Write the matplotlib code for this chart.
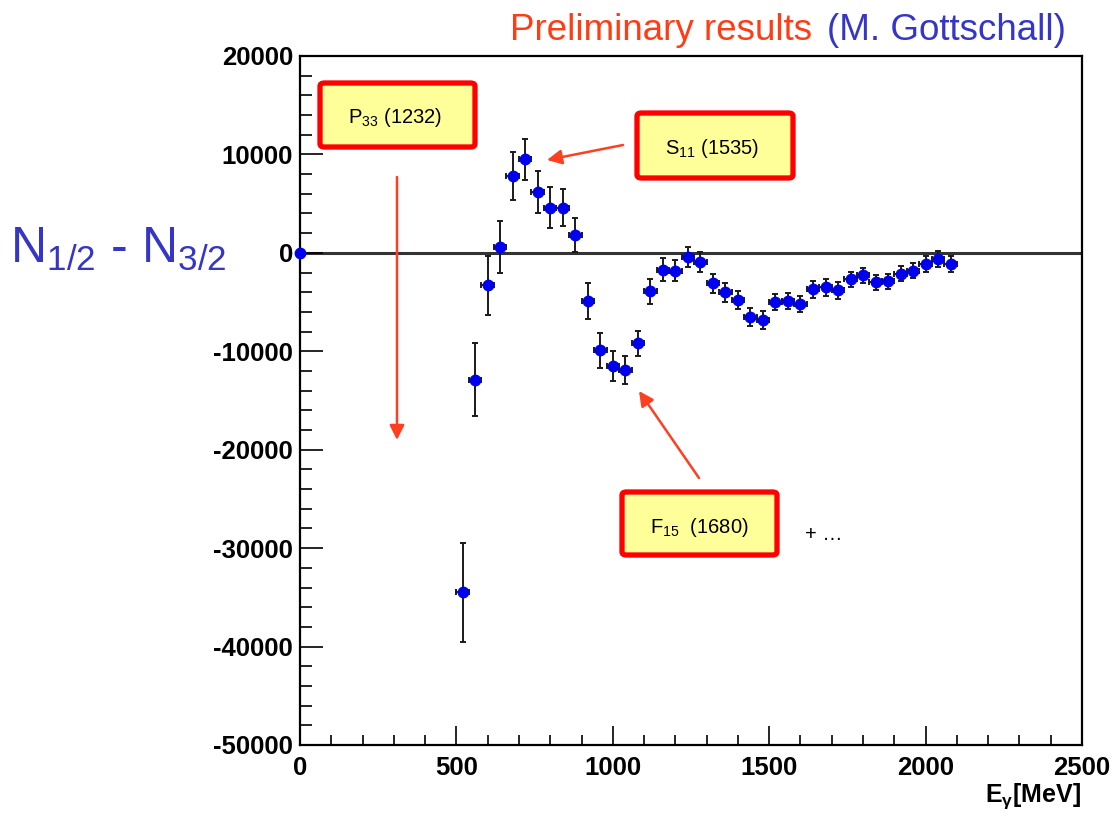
import matplotlib
matplotlib.use("Agg")
import matplotlib.pyplot as plt
from matplotlib.patches import FancyBboxPatch, FancyArrowPatch
from matplotlib.ticker import MultipleLocator

plt.rcParams['font.family'] = ['Liberation Sans', 'DejaVu Sans']
plt.rcParams['mathtext.fontset'] = 'custom'
plt.rcParams['mathtext.rm'] = 'Liberation Sans'
plt.rcParams['mathtext.it'] = 'Liberation Sans:italic'
plt.rcParams['mathtext.bf'] = 'Liberation Sans:bold'
plt.rcParams['mathtext.default'] = 'regular'
plt.rcParams['axes.unicode_minus'] = False

# photon energy bins [MeV] and helicity difference with errors
e_gamma = [520, 560, 600, 640, 680, 720, 760, 800, 840, 880,
           920, 960, 1000, 1040, 1080, 1120, 1160, 1200, 1240, 1280,
           1320, 1360, 1400, 1440, 1480, 1520, 1560, 1600, 1640, 1680,
           1720, 1760, 1800, 1840, 1880, 1920, 1960, 2000, 2040, 2080]
dn = [-34500, -12900, -3300, 600, 7800, 9500, 6200, 4600, 4600, 1800,
      -4900, -9900, -11500, -11900, -9200, -3900, -1700, -1800, -400, -900,
      -3100, -4000, -4800, -6500, -6800, -5000, -4900, -5200, -3700, -3500,
      -3800, -2700, -2300, -3000, -2900, -2100, -1800, -1100, -650, -1150]
dn_err = [5000, 3700, 3000, 2650, 2450, 2050, 2100, 2100, 1900, 1700,
          1800, 1750, 1550, 1450, 1300, 1250, 1150, 1100, 1000, 1000,
          950, 950, 900, 900, 900, 850, 850, 850, 850, 850,
          850, 800, 800, 800, 800, 800, 800, 800, 800, 800]
bin_half = 20

W, H = 1115, 816
fig = plt.figure(figsize=(W / 100, H / 100), dpi=100)

def px(x, y):
    # pixel position (from top-left) -> figure fraction
    return x / W, 1 - y / H

ax = fig.add_axes([300 / W, 1 - 745 / H, 782 / W, 689 / H])
ax.set_xlim(0, 2500)
ax.set_ylim(-50000, 20000)

ax.axhline(0, color='#333333', lw=2.2, zorder=1)
ax.errorbar(e_gamma, dn, yerr=dn_err, xerr=bin_half, fmt='o', color='#0000f0',
            ms=7.5, ecolor='#1a1a1a', elinewidth=1.4, capsize=2, capthick=1.4,
            zorder=3)
ax.plot([0], [0], 'o', color='#0000f0', ms=7.5, clip_on=False, zorder=4)

for s in ax.spines.values():
    s.set_linewidth(1.6)

ax.xaxis.set_major_locator(MultipleLocator(500))
ax.xaxis.set_minor_locator(MultipleLocator(100))
ax.yaxis.set_major_locator(MultipleLocator(10000))
ax.yaxis.set_minor_locator(MultipleLocator(2000))
ax.tick_params(axis='x', which='major', direction='in', length=14, width=1.2, pad=8)
ax.tick_params(axis='x', which='minor', direction='in', length=7, width=1.2)
ax.tick_params(axis='y', which='major', direction='in', length=16.5, width=1.2, pad=5)
ax.tick_params(axis='y', which='minor', direction='in', length=8.5, width=1.2)
for lab in ax.get_xticklabels() + ax.get_yticklabels():
    lab.set_fontsize(18.5)
    lab.set_fontweight('bold')

fig.text(*px(1081, 802), r'E$_{\gamma}$[MeV]', fontsize=18, fontweight='bold',
         ha='right', va='baseline')

# vertical axis title and header
fig.text(*px(10, 263), 'N$_{1/2}$ - N$_{3/2}$', fontsize=36, color='#3535c8',
         ha='left', va='baseline')
fig.text(*px(510, 40), 'Preliminary results', fontsize=26.5, color='#ff3c14',
         ha='left', va='baseline')
fig.text(*px(1066, 40), '(M. Gottschall)', fontsize=26.5, color='#3535c8',
         ha='right', va='baseline')

# resonance boxes
boxes = [((320, 83, 475, 147), 'P$_{33}$ (1232)', (395, 123)),
         ((637, 113, 793, 178), 'S$_{11}$ (1535)', (712, 154)),
         ((622, 492, 777, 555), 'F$_{15}$  (1680)', (699, 533))]
for (x0, y0, x1, y1), txt, (tx, ty) in boxes:
    fx0, fy1 = px(x0, y1)
    fw, fh = (x1 - x0) / W, (y1 - y0) / H
    fig.add_artist(FancyBboxPatch((fx0, fy1), fw, fh, transform=fig.transFigure,
                                  boxstyle='round,pad=0,rounding_size=0.004',
                                  fc='#ffff99', ec='#ff0000', lw=3.8))
    fig.text(*px(tx, ty), txt, fontsize=14.5, ha='center', va='baseline')

fig.text(*px(805, 540), '+ …', fontsize=14.5, ha='left', va='baseline')

arrow_col = '#ff4020'
for a, b in [((397, 177), (397, 440)),
             ((623, 145), (547, 160)),
             ((699, 478), (639, 391))]:
    fig.add_artist(FancyArrowPatch(px(*a), px(*b), transform=fig.transFigure,
                                   arrowstyle='-|>', mutation_scale=22,
                                   color=arrow_col, lw=1.8,
                                   shrinkA=0, shrinkB=0))

fig.savefig('out.png', dpi=100)
